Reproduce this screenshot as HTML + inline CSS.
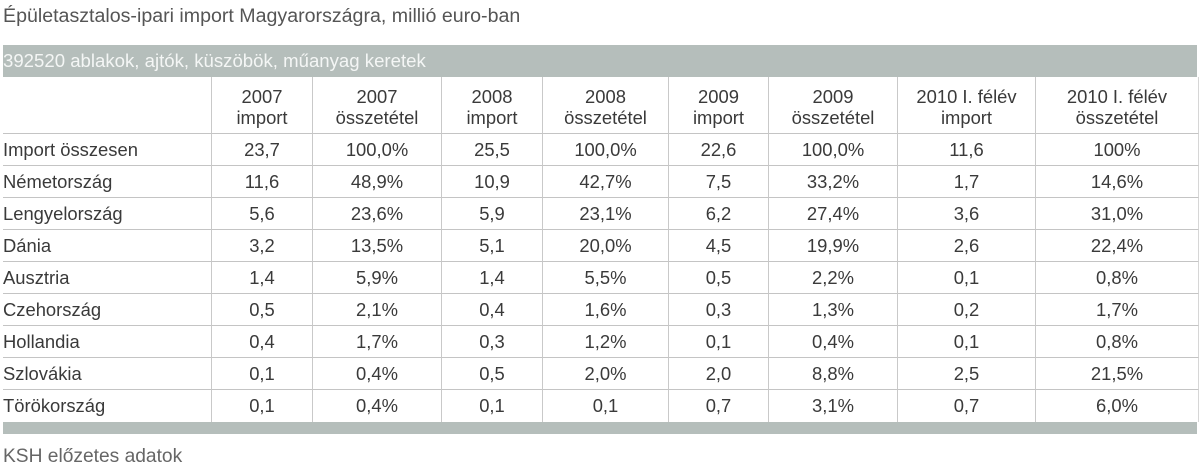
<!DOCTYPE html>
<html>
<head>
<meta charset="utf-8">
<style>
  html, body { margin:0; padding:0; background:#fff; }
  body { width:1200px; height:470px; position:relative; overflow:hidden;
         font-family:"Liberation Sans", Arial, sans-serif; color:#3a3a3a; }
  .title { position:absolute; left:3px; top:3px; font-size:19.6px; line-height:26px; color:#555; white-space:nowrap; }
  .bar { position:absolute; left:3px; top:45px; width:1194px; height:32px; background:#b5bebb; }
  .bartext { position:absolute; left:3px; top:45px; height:32px; line-height:32px; font-size:18.6px; color:#f4f6f5; white-space:nowrap; }
  .bottombar { position:absolute; left:3px; top:422px; width:1194px; height:12px; background:#b5bebb; }
  .footer { position:absolute; left:3px; top:444px; font-size:19.2px; line-height:26px; color:#666; white-space:nowrap; }
  .grid { position:absolute; left:3px; top:77px; width:1196px; display:grid;
          grid-template-columns:208px 101px 129px 101px 126px 100px 129px 138px 164px;
          grid-template-rows:56px repeat(8, 32px) 33px; }
  .grid > div { box-sizing:border-box; font-size:18.4px; white-space:nowrap; text-align:center; }
  .grid > div:not(.l) { border-left:1px solid #c9c9c9; }
  .grid > div.r { border-right:1px solid #d6d6d6; }
  .h { padding-top:9px; line-height:21px; }
  .d { border-top:1px solid #c4c4c4; line-height:31px; }
  .grid > div.l { text-align:left; }
</style>
</head>
<body>
<div class="title">Épületasztalos-ipari import Magyarországra, millió euro-ban</div>
<div class="bar"></div>
<div class="bartext">392520 ablakok, ajtók, küszöbök, műanyag keretek</div>

<div class="grid">
  <div class="l h"></div>
  <div class="h">2007<br>import</div>
  <div class="h">2007<br>összetétel</div>
  <div class="h">2008<br>import</div>
  <div class="h">2008<br>összetétel</div>
  <div class="h">2009<br>import</div>
  <div class="h">2009<br>összetétel</div>
  <div class="h">2010 I. félév<br>import</div>
  <div class="h r">2010 I. félév<br>összetétel</div>

  <div class="l d">Import összesen</div><div class="d">23,7</div><div class="d">100,0%</div><div class="d">25,5</div><div class="d">100,0%</div><div class="d">22,6</div><div class="d">100,0%</div><div class="d">11,6</div><div class="d r">100%</div>
  <div class="l d">Németország</div><div class="d">11,6</div><div class="d">48,9%</div><div class="d">10,9</div><div class="d">42,7%</div><div class="d">7,5</div><div class="d">33,2%</div><div class="d">1,7</div><div class="d r">14,6%</div>
  <div class="l d">Lengyelország</div><div class="d">5,6</div><div class="d">23,6%</div><div class="d">5,9</div><div class="d">23,1%</div><div class="d">6,2</div><div class="d">27,4%</div><div class="d">3,6</div><div class="d r">31,0%</div>
  <div class="l d">Dánia</div><div class="d">3,2</div><div class="d">13,5%</div><div class="d">5,1</div><div class="d">20,0%</div><div class="d">4,5</div><div class="d">19,9%</div><div class="d">2,6</div><div class="d r">22,4%</div>
  <div class="l d">Ausztria</div><div class="d">1,4</div><div class="d">5,9%</div><div class="d">1,4</div><div class="d">5,5%</div><div class="d">0,5</div><div class="d">2,2%</div><div class="d">0,1</div><div class="d r">0,8%</div>
  <div class="l d">Czehország</div><div class="d">0,5</div><div class="d">2,1%</div><div class="d">0,4</div><div class="d">1,6%</div><div class="d">0,3</div><div class="d">1,3%</div><div class="d">0,2</div><div class="d r">1,7%</div>
  <div class="l d">Hollandia</div><div class="d">0,4</div><div class="d">1,7%</div><div class="d">0,3</div><div class="d">1,2%</div><div class="d">0,1</div><div class="d">0,4%</div><div class="d">0,1</div><div class="d r">0,8%</div>
  <div class="l d">Szlovákia</div><div class="d">0,1</div><div class="d">0,4%</div><div class="d">0,5</div><div class="d">2,0%</div><div class="d">2,0</div><div class="d">8,8%</div><div class="d">2,5</div><div class="d r">21,5%</div>
  <div class="l d">Törökország</div><div class="d">0,1</div><div class="d">0,4%</div><div class="d">0,1</div><div class="d">0,1</div><div class="d">0,7</div><div class="d">3,1%</div><div class="d">0,7</div><div class="d r">6,0%</div>
</div>

<div class="bottombar"></div>
<div class="footer">KSH előzetes adatok</div>
</body>
</html>
